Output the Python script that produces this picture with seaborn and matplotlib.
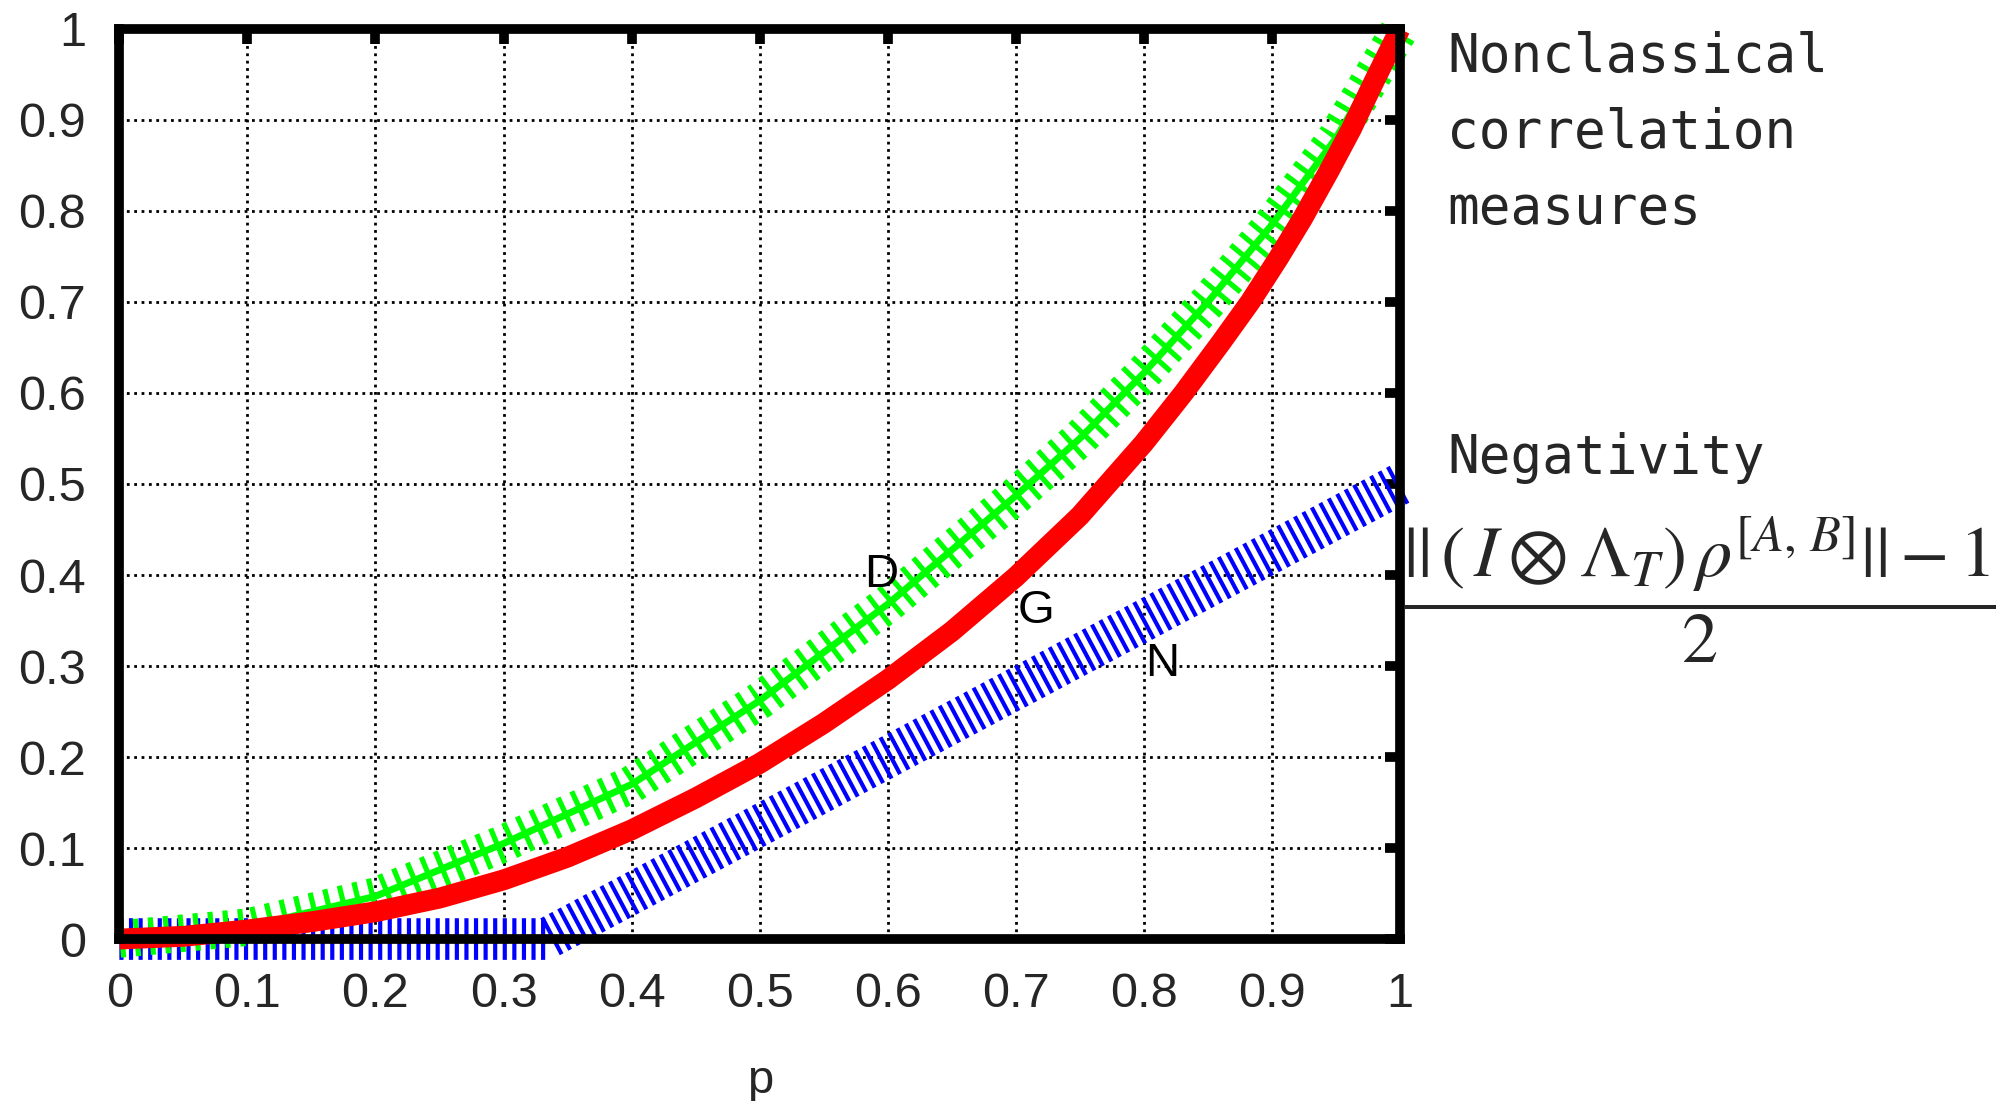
import matplotlib
matplotlib.use("Agg")
import matplotlib.pyplot as plt
import seaborn as sns

# values
p_disc = [0.0, 0.1, 0.2, 0.3, 0.4, 0.5, 0.6, 0.7, 0.75, 0.8, 0.85, 0.9, 0.95, 0.975, 1.0]
discord = [0.0, 0.013, 0.047, 0.105, 0.17, 0.262, 0.368, 0.487, 0.55, 0.622, 0.70,
           0.785, 0.88, 0.94, 1.0]

p_geo = [0.0, 0.05, 0.1, 0.15, 0.2, 0.25, 0.3, 0.35, 0.4, 0.45, 0.5, 0.55, 0.6,
         0.65, 0.7, 0.75, 0.8, 0.831, 0.86, 0.883, 0.905, 0.924, 0.945,
         0.962, 0.98, 1.0]
geo = [0.0, 0.003, 0.01, 0.019, 0.03, 0.045, 0.065, 0.09, 0.12, 0.155, 0.193, 0.237,
       0.285, 0.338, 0.398, 0.465, 0.545, 0.6, 0.655, 0.7, 0.748, 0.792, 0.845, 0.89,
       0.943, 1.0]

p_neg = [0.0, 0.1, 0.2, 0.3, 0.333, 0.4, 0.5, 0.6, 0.7, 0.8, 0.9, 1.0]
negativity = [0.0, 0.0, 0.0, 0.0, 0.0, 0.05, 0.125, 0.2, 0.275, 0.35, 0.425, 0.5]

ticks = [0, 0.1, 0.2, 0.3, 0.4, 0.5, 0.6, 0.7, 0.8, 0.9, 1.0]
tick_labels = ["0", "0.1", "0.2", "0.3", "0.4", "0.5", "0.6", "0.7", "0.8", "0.9", "1"]

curve_labels = ["D", "G", "N"]
label_pos = [(0.595, 0.40), (0.716, 0.36), (0.814, 0.302)]

sns.set_theme(style="white")
plt.rcParams["font.family"] = ["Liberation Sans", "DejaVu Sans"]
plt.rcParams["mathtext.fontset"] = "stix"

fig = plt.figure(figsize=(19.96, 11.01), dpi=100)
ax = fig.add_axes([0.0598, 0.1471, 0.6416, 0.8266])

# negativity: thick dashed blue band
sns.lineplot(x=p_neg, y=negativity, ax=ax, color="#0000ff", linewidth=30,
             clip_on=False, zorder=2)
ax.lines[-1].set_dashes([0.1, 0.13])
ax.lines[-1].set_dash_capstyle("butt")

# discord: green core line with cross strokes
sns.lineplot(x=p_disc, y=discord, ax=ax, color="#00ff00", linewidth=27,
             clip_on=False, zorder=2)
ax.lines[-1].set_dashes([0.14, 0.26])
ax.lines[-1].set_dash_capstyle("butt")
sns.lineplot(x=p_disc, y=discord, ax=ax, color="#00ff00", linewidth=5,
             clip_on=False, zorder=2)

# red solid curve
sns.lineplot(x=p_geo, y=geo, ax=ax, color="#ff0000", linewidth=15,
             clip_on=False, zorder=2)
ax.lines[-1].set_solid_capstyle("butt")

for txt, (x, y) in zip(curve_labels, label_pos):
    ax.text(x, y, txt, fontsize=34, ha="center", va="center", color="black")

ax.set_xlim(0, 1)
ax.set_ylim(0, 1)
ax.set_xticks(ticks)
ax.set_xticklabels(tick_labels)
ax.set_yticks(ticks)
ax.set_yticklabels(tick_labels)
ax.tick_params(direction="in", length=11, width=7, color="black",
               top=True, right=True, labelsize=35, pad=24)
ax.grid(True, color="black", linestyle=":", linewidth=2.0)
for s in ax.spines.values():
    s.set_linewidth(7)
    s.set_color("black")
ax.set_xlabel("p", fontsize=34, labelpad=30)
ax.set_ylabel("")

fig.text(0.725, 0.9715, "Nonclassical\ncorrelation\nmeasures",
         family="DejaVu Sans Mono", fontsize=38, ha="left", va="top",
         linespacing=1.58)
fig.text(0.725, 0.570, "Negativity", family="DejaVu Sans Mono",
         fontsize=38, ha="left", va="baseline")
fig.text(0.852, 0.437,
         r"$\dfrac{||\,(\,I\otimes\Lambda_T)\,\rho^{[A,\,B]}||-1}{2}$",
         fontsize=52, ha="center", va="baseline")

fig.savefig("out.png", dpi=100)
